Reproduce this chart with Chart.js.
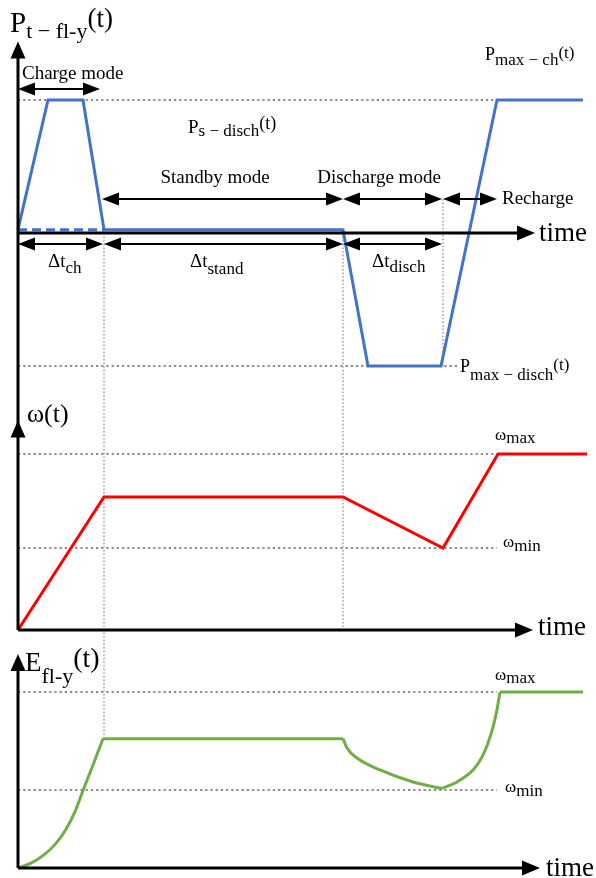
<!DOCTYPE html>
<html lang="en">
<head>
  <meta charset="UTF-8">
  <title>Flywheel operating modes</title>
  <script src="https://cdn.jsdelivr.net/npm/chart.js"></script>
  <style>
    html, body { margin: 0; padding: 0; background: #fff; }
    #modes { display: block; }
  </style>
</head>
<body>
<canvas id="modes" width="596" height="878"></canvas>

<script>
  // flywheel power P(t), per unit of P_max (standby = small self-discharge)
  const tPower = [0, 1.5, 3.25, 4.3, 16.25, 17.5, 21.15, 23.95, 28.25];
  const pPower = [0.025, 1, 1, 0.025, 0.025, -1, -1, 1, 1];
  const tStandbyDash = [0, 4.3];
  const pStandbyDash = [0.025, 0.025];

  // rotor speed w(t), per unit of w_max
  const tSpeed = [0, 4.3, 16.25, 21.25, 24, 28.45];
  const wSpeed = [0, 0.756, 0.756, 0.466, 1, 1];

  // stored energy E(t), per unit of E_max
  const tEnergy = [0, 0.6, 1.25, 1.9, 2.4, 2.85, 3.25, 3.75, 4.25, 16.25, 16.45, 16.95, 18.1, 19.75, 21.2,
                   21.95, 22.75, 23.2, 23.5, 23.75, 23.95, 24.1, 28.25];
  const eEnergy = [0, 0.025, 0.07, 0.14, 0.22, 0.32, 0.44, 0.585, 0.735, 0.735, 0.682, 0.625, 0.557, 0.489, 0.452,
                   0.489, 0.557, 0.63, 0.71, 0.8, 0.9, 1, 1];
  // index ranges of the energy curve: charge, standby, discharge, recharge, full
  const eSegments = [[0, 8], [8, 9], [9, 14], [14, 21], [21, 22]];

  // reference levels (dotted lines)
  const pLevels = [1, -1];        // P_max-ch, P_max-disch
  const wLevels = [1, 0.466];     // w_max, w_min
  const eLevels = [1, 0.443];     // upper, lower energy level

  // mode boundaries: start, end of charge, end of standby, end of discharge, end of recharge
  const tModes = [0, 4.3, 16.25, 21.2, 23.95];

  const pts = (xs, ys) => xs.map((t, i) => ({ x: t, y: ys[i] }));

  // every y axis covers the whole canvas height; pick min/max so that
  // value v1 lands on pixel p1 and v2 on p2 (H = canvas height)
  const H = 878;
  function fit(v1, p1, v2, p2) {
    const b = (p1 - p2) / (v2 - v1);
    const a = p1 + b * v1;
    return { min: (a - H) / b, max: a / b };
  }
  const rP = fit(-1, 366, 1, 100);
  const rW = fit(0, 630, 1, 454);
  const rE = fit(0, 868, 1, 692);

  const SERIF = '"Liberation Serif", "Times New Roman", serif';

  function drawMath(ctx, x, y, parts) {
    let cx = x;
    parts.forEach(([txt, size, dy]) => {
      ctx.font = size + 'px ' + SERIF;
      ctx.fillText(txt, cx, y + dy);
      cx += ctx.measureText(txt).width;
    });
  }

  function head(ctx, x, y, dir, len, half) {
    ctx.beginPath();
    ctx.moveTo(x, y);
    if (dir === 'r') { ctx.lineTo(x - len, y - half); ctx.lineTo(x - len, y + half); }
    if (dir === 'l') { ctx.lineTo(x + len, y - half); ctx.lineTo(x + len, y + half); }
    if (dir === 'u') { ctx.lineTo(x - half, y + len); ctx.lineTo(x + half, y + len); }
    ctx.closePath();
    ctx.fill();
  }

  function dimArrow(ctx, x1, x2, y) {
    ctx.lineWidth = 2;
    ctx.beginPath();
    ctx.moveTo(x1 + 6, y);
    ctx.lineTo(x2 - 6, y);
    ctx.stroke();
    head(ctx, x1, y, 'l', 17, 6.5);
    head(ctx, x2, y, 'r', 17, 6.5);
  }

  function dotted(ctx, x1, y1, x2, y2, thick) {
    ctx.save();
    ctx.strokeStyle = thick ? '#8a8a8a' : '#9a9a9a';
    ctx.lineWidth = thick ? 2 : 1.4;
    ctx.setLineDash(thick ? [2.2, 3] : [1.6, 2]);
    ctx.beginPath();
    ctx.moveTo(x1, y1);
    ctx.lineTo(x2, y2);
    ctx.stroke();
    ctx.restore();
  }

  const overlay = {
    id: 'overlay',
    beforeDatasetsDraw(chart) {
      const { ctx, scales } = chart;
      const X = v => scales.x.getPixelForValue(v);
      const YP = v => scales.yP.getPixelForValue(v);
      const YW = v => scales.yW.getPixelForValue(v);
      const YE = v => scales.yE.getPixelForValue(v);

      // horizontal reference levels
      dotted(ctx, X(0), YP(pLevels[0]), X(tModes[4]), YP(pLevels[0]), true);
      dotted(ctx, X(0), YP(pLevels[1]), X(22), YP(pLevels[1]), true);
      wLevels.forEach(v => dotted(ctx, X(0), YW(v), X(tModes[4]), YW(v), true));
      eLevels.forEach(v => dotted(ctx, X(0), YE(v), X(tModes[4]), YE(v), true));

      // vertical mode boundaries
      dotted(ctx, X(tModes[1]), YP(0), X(tModes[1]), YE(eEnergy[8]), false);
      dotted(ctx, X(tModes[2]), YP(0), X(tModes[2]), YW(0), false);
      dotted(ctx, X(tModes[3]) + 1, YP(0.256), X(tModes[3]) + 1, YP(pLevels[1]), false);
    },
    afterDatasetsDraw(chart) {
      const { ctx, scales } = chart;
      const X = v => scales.x.getPixelForValue(v);
      const YP = v => scales.yP.getPixelForValue(v);
      const YW = v => scales.yW.getPixelForValue(v);
      const YE = v => scales.yE.getPixelForValue(v);

      ctx.save();
      ctx.fillStyle = '#000';
      ctx.strokeStyle = '#000';
      ctx.textBaseline = 'alphabetic';

      // axes
      const x0 = X(0);
      ctx.lineWidth = 3;
      ctx.beginPath();
      ctx.moveTo(x0, YP(1.33)); ctx.lineTo(x0, YW(0));
      ctx.moveTo(x0, YP(0)); ctx.lineTo(X(25.0), YP(0));
      ctx.moveTo(x0, YW(0)); ctx.lineTo(X(24.9), YW(0));
      ctx.moveTo(x0, YE(0)); ctx.lineTo(x0, YE(1.12));
      ctx.moveTo(x0, YE(0)); ctx.lineTo(X(25.2), YE(0));
      ctx.stroke();
      head(ctx, x0, YP(1.44), 'u', 17, 7.5);
      head(ctx, x0, YW(1.19), 'u', 17, 7.5);
      head(ctx, x0, YE(1.216), 'u', 17, 7.5);
      head(ctx, X(25.85), YP(0), 'r', 18, 7.5);
      head(ctx, X(25.75), YW(0), 'r', 18, 7.5);
      head(ctx, X(26.1), YE(0), 'r', 18, 7.5);

      ctx.font = '27px ' + SERIF;
      ctx.fillText('time', X(25.85) + 4, YP(0) + 8);
      ctx.fillText('time', X(25.75) + 5, YW(0) + 5);
      ctx.fillText('time', X(26.1) + 6, YE(0) + 8);

      // mode arrows
      const rowMode = YP(1.083), rowTop = YP(0.256), rowDt = YP(-0.083);
      dimArrow(ctx, X(0), X(4.1), rowMode);
      dimArrow(ctx, X(4.2), X(tModes[2]), rowTop);
      dimArrow(ctx, X(tModes[2]), X(tModes[3]), rowTop);
      dimArrow(ctx, X(tModes[3]) + 1, X(tModes[4]), rowTop);
      dimArrow(ctx, X(0), X(4.25), rowDt);
      dimArrow(ctx, X(tModes[1]), X(tModes[2]), rowDt);
      dimArrow(ctx, X(tModes[2]), X(tModes[3]), rowDt);

      ctx.font = '19px ' + SERIF;
      ctx.fillText('Charge mode', x0 + 4, rowMode - 10);
      ctx.textAlign = 'center';
      ctx.fillText('Standby mode', 215, rowTop - 16);
      ctx.fillText('Discharge mode', 379, rowTop - 16);
      ctx.textAlign = 'left';
      ctx.fillText('Recharge', X(tModes[4]) + 5, rowTop + 5);

      drawMath(ctx, 48, rowDt + 23, [['Δt', 19, 0], ['ch', 17, 6]]);
      drawMath(ctx, 190, rowDt + 23, [['Δt', 19, 0], ['stand', 17, 7]]);
      drawMath(ctx, 372, rowDt + 23, [['Δt', 19, 0], ['disch', 17, 5]]);

      // curve labels
      drawMath(ctx, 10, 32, [['P', 29, 0], ['t − fl-y', 22, 6], ['(t)', 27, -5]]);
      drawMath(ctx, 188, 133, [['P', 19, 0], ['s − disch', 17, 3], ['(t)', 18, -4]]);
      drawMath(ctx, 485, 60, [['P', 18, 0], ['max − ch', 17, 5], ['(t)', 17, -2]]);
      drawMath(ctx, 460, YP(pLevels[1]) + 6, [['P', 18, 0], ['max − disch', 17, 8], ['(t)', 17, -2]]);

      drawMath(ctx, 27, 422, [['ω', 26, 0], ['(t)', 26, 0]]);
      drawMath(ctx, 495, YW(wLevels[0]) - 14, [['ω', 17, 0], ['max', 17, 3]]);
      drawMath(ctx, 503, YW(wLevels[1]) - 1, [['ω', 17, 0], ['min', 17, 4]]);

      drawMath(ctx, 25, 671, [['E', 27, 0], ['fl-y', 22, 12], ['(t)', 28, -4]]);
      drawMath(ctx, 495, YE(eLevels[0]) - 12, [['ω', 17, 0], ['max', 17, 3]]);
      drawMath(ctx, 505, YE(eLevels[1]) + 2, [['ω', 17, 0], ['min', 17, 4]]);

      ctx.restore();
    }
  };

  const line = (data, axis, color, extra) => Object.assign({
    data: data,
    yAxisID: axis,
    borderColor: color,
    borderWidth: 3,
    pointRadius: 0,
    tension: 0,
    fill: false,
    clip: false
  }, extra || {});

  // energy curve drawn piece by piece so the corners between modes stay sharp
  const energySets = eSegments.map(([a, b]) =>
    line(pts(tEnergy.slice(a, b + 1), eEnergy.slice(a, b + 1)), 'yE', '#70AD47',
         { cubicInterpolationMode: 'monotone', borderJoinStyle: 'round' }));

  new Chart(document.getElementById('modes'), {
    type: 'line',
    data: {
      datasets: [
        line(pts(tStandbyDash, pStandbyDash), 'yP', '#4472C4', { borderDash: [9, 5] }),
        line(pts(tPower, pPower), 'yP', '#4472C4'),
        line(pts(tSpeed, wSpeed), 'yW', '#FF0000'),
        ...energySets
      ]
    },
    options: {
      responsive: false,
      devicePixelRatio: 1,
      animation: false,
      layout: { padding: { left: 18, right: 8, top: 0, bottom: 0 } },
      plugins: { legend: { display: false }, tooltip: { enabled: false } },
      scales: {
        x: { type: 'linear', min: 0, max: 28.5, display: false },
        yP: { type: 'linear', min: rP.min, max: rP.max, display: false },
        yW: { type: 'linear', min: rW.min, max: rW.max, display: false },
        yE: { type: 'linear', min: rE.min, max: rE.max, display: false }
      }
    },
    plugins: [overlay]
  });
</script>
</body>
</html>
